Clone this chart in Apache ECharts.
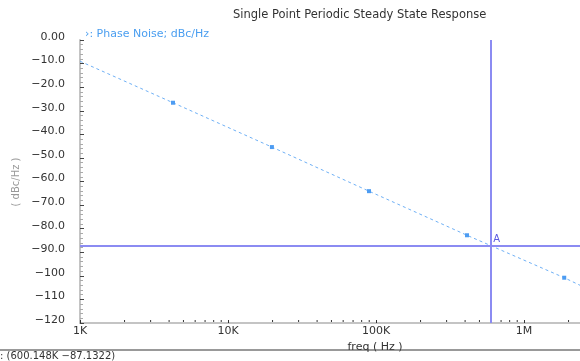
<!DOCTYPE html>
<html><head><meta charset="utf-8">
<script src="https://cdn.jsdelivr.net/npm/echarts@6/dist/echarts.min.js"></script>
<style>html,body{margin:0;padding:0;background:#fff}#c{width:580px;height:361px}</style>
</head><body><div id="c"></div>
<script>
// ---- data ----
const freqs = [1000, 4250, 19800, 89700, 412000, 1870000, 2390000];
const phaseNoise = [-9.0, -26.6, -45.4, -64.1, -82.8, -100.8, -104.0];
const markerShown = [false, true, true, true, true, true, false];
const xTickLabels = {3: '1K', 4: '10K', 5: '100K', 6: '1M'};
const minorFreqs = [];
[1000, 10000, 100000, 1000000].forEach(d => { for (let k = 2; k <= 9; k++) minorFreqs.push(d * k); });
const cursorX = 600148;
const cursorY = -87.1322;
const titleText = 'Single Point Periodic Steady State Response';
const legendText = '›: Phase Noise; dBc/Hz';
const statusText = ': (600.148K \u221287.1322)';

const FONT = 'DejaVu Sans';
const chart = echarts.init(document.getElementById('c'), null, {renderer: 'canvas'});
const fmtY = v => {
  let s;
  if (v === 0) s = '0.00';
  else if (v > -100) s = v.toFixed(1);
  else s = String(Math.round(v));
  return s.replace('-', '\u2212');
};
chart.setOption({
  animation: false,
  backgroundColor: '#fff',
  title: [
    {text: titleText, left: 228, top: 4, textStyle: {fontFamily: FONT, fontSize: 11.5, fontWeight: 'normal', color: '#333'}},
    {text: legendText, left: 80, top: 24, textStyle: {fontFamily: FONT, fontSize: 11, fontWeight: 'normal', color: '#4a9ef0'}}
  ],
  grid: {left: 80, top: 40, right: 0, bottom: 38, containLabel: false},
  xAxis: {
    type: 'log', logBase: 10, min: 1000, max: 2390000,
    name: 'freq ( Hz )', nameLocation: 'middle', nameGap: 13,
    nameTextStyle: {fontFamily: FONT, fontSize: 11, color: '#333', padding: [0, 0, 0, 90]},
    axisLine: {onZero: false, lineStyle: {color: '#c4c4c4', width: 2}},
    axisTick: {inside: true, length: 3, lineStyle: {color: '#333'}},
    splitLine: {show: false},
    axisLabel: {
      fontFamily: FONT, fontSize: 11, color: '#333', margin: 3, showMaxLabel: false,
      formatter: v => xTickLabels[Math.round(Math.log10(v))] || ''
    }
  },
  yAxis: {
    type: 'value', min: -120, max: 0, interval: 10,
    axisLine: {show: true, onZero: false, lineStyle: {color: '#c4c4c4', width: 2}},
    axisTick: {inside: true, length: 4, lineStyle: {color: '#444'}},
    minorTick: {show: true, splitNumber: 5, length: 3, lineStyle: {color: '#aaa'}},
    splitLine: {show: false},
    axisLabel: {fontFamily: FONT, fontSize: 11, color: '#333', margin: 15, verticalAlign: 'bottom',
      lineHeight: 6, formatter: fmtY}
  },
  series: [
    {
      type: 'line',
      data: freqs.map((f, i) => ({
        value: [f, phaseNoise[i]],
        symbol: markerShown[i] ? 'rect' : 'none',
        symbolSize: markerShown[i] ? 4 : 0
      })),
      showAllSymbol: true,
      lineStyle: {color: '#6fb0f5', width: 1, type: [3, 3]},
      itemStyle: {color: '#4d9cf2'},
      markLine: {
        silent: true, symbol: 'none', animation: false,
        label: {show: false},
        lineStyle: {color: '#8b8bf2', width: 2, type: 'solid'},
        data: [{xAxis: cursorX}, {yAxis: cursorY}]
      },
      markPoint: {
        symbol: 'circle', symbolSize: 0,
        label: {show: true, formatter: 'A', position: 'right', offset: [0, -6], distance: 2,
          fontFamily: FONT, fontSize: 10, color: '#5a5ae0'},
        data: [{coord: [cursorX, cursorY]}]
      }
    },
    {
      type: 'custom', silent: true,
      data: minorFreqs.map(f => [f, -120]),
      renderItem: (params, api) => {
        const p = api.coord([api.value(0), api.value(1)]);
        return {type: 'line', shape: {x1: p[0], y1: p[1] - 1, x2: p[0], y2: p[1] - 3},
          style: {stroke: '#333', lineWidth: 1}};
      }
    }
  ],
  graphic: [
    {type: 'text', x: 16, y: 182, rotation: Math.PI / 2,
      style: {text: '( dBc/Hz )', font: '10px ' + FONT, fill: '#999', align: 'center', verticalAlign: 'middle'}},
    {type: 'line', shape: {x1: 0, y1: 350, x2: 580, y2: 350}, style: {stroke: '#999', lineWidth: 2}},
    {type: 'text', x: 0, y: 351, style: {text: statusText, font: '10px ' + FONT, fill: '#333'}}
  ]
});
</script></body></html>
